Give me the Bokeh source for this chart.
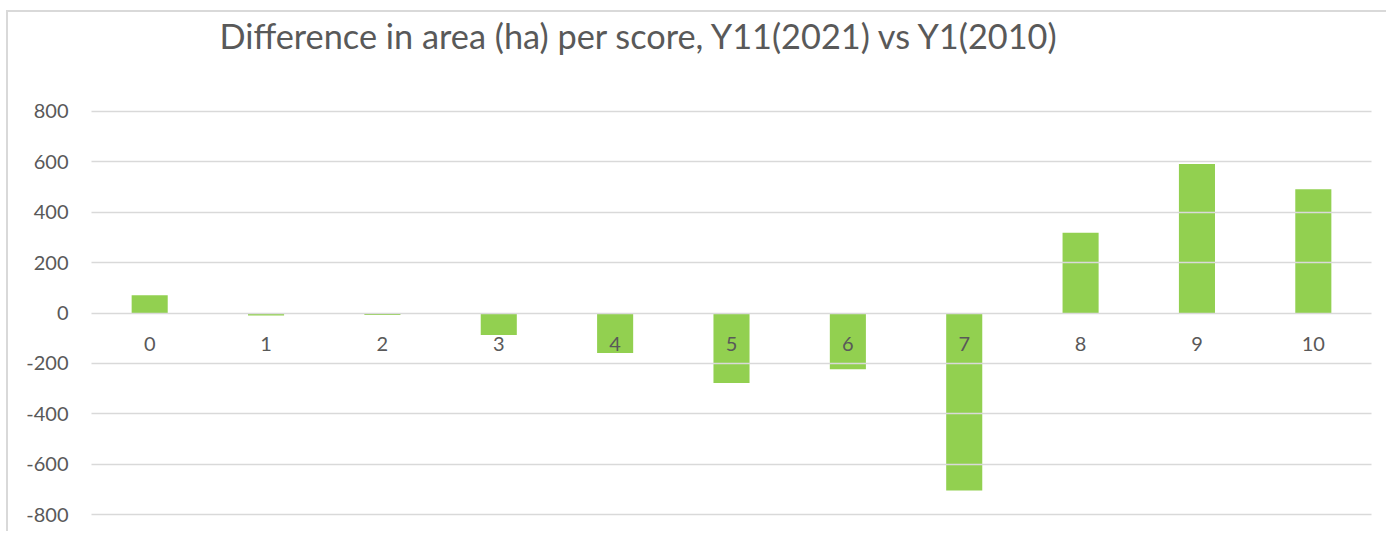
from bokeh.plotting import figure
from bokeh.models import Range1d, FixedTicker, ColumnDataSource, Title
from bokeh.core.properties import value
from bokeh.embed import file_html
from bokeh.resources import INLINE

categories = ["0", "1", "2", "3", "4", "5", "6", "7", "8", "9", "10"]
differences = [70, -10, -8, -87, -158, -277, -223, -703, 318, 590, 490]
y_ticks = [-800, -600, -400, -200, 0, 200, 400, 600, 800]
y_tick_labels = ["-800", "-600", "-400", "-200", "0", "200", "400", "600", "800"]

TITLE = "Difference in area (ha) per score, Y11(2021) vs Y1(2010)"
TEXT_COLOR = "#595959"
GRID_COLOR = "#d9d9d9"
BAR_COLOR = "#92D050"
FONT = "Lato"

xs = list(range(len(categories)))
src = ColumnDataSource(dict(x=xs, top=differences, label=categories, zero=[0] * len(xs)))

p = figure(
    width=1380, height=521,
    output_backend="svg", toolbar_location=None,
    x_range=Range1d(-0.5, len(categories) - 0.5),
    y_range=Range1d(-802, 802),
    min_border_left=83, min_border_right=17,
    min_border_top=98, min_border_bottom=18,
    title=TITLE,
)
p.styles = {
    "margin-left": "6px", "margin-top": "10px",
    "border-top": "2px solid #d9d9d9", "border-left": "2px solid #d9d9d9",
}

p.title.text_font = FONT
p.title.text_font_size = "34.3px"
p.title.text_font_style = "normal"
p.title.text_color = TEXT_COLOR
p.title.align = "left"
p.title.vertical_align = "top"
p.title.offset = 128
p.title.standoff = 0

# white spacer between the title and the plotting frame (pushes the title up)
spacer = Title(text=" ", text_font_size="1px", standoff=50, text_color="white")
p.add_layout(spacer, "above")

p.outline_line_color = None
p.background_fill_color = "white"
p.border_fill_color = "white"

p.vbar(x="x", top="top", bottom=0, width=0.31, source=src,
       fill_color=BAR_COLOR, line_color=BAR_COLOR, line_width=0)

p.xgrid.visible = False
p.ygrid.grid_line_color = GRID_COLOR
p.ygrid.grid_line_width = 1.5
p.ygrid.ticker = FixedTicker(ticks=y_ticks)
p.ygrid.level = "overlay"

p.xaxis.visible = False

p.yaxis.ticker = FixedTicker(ticks=y_ticks)
p.yaxis.major_label_overrides = dict(zip(y_ticks, y_tick_labels))
p.yaxis.axis_line_color = None
p.yaxis.major_tick_line_color = None
p.yaxis.minor_tick_line_color = None
p.yaxis.major_tick_out = 0
p.yaxis.major_tick_in = 0
p.yaxis.major_label_standoff = 23
p.yaxis.major_label_text_font = FONT
p.yaxis.major_label_text_font_size = "20px"
p.yaxis.major_label_text_color = TEXT_COLOR

p.text(x="x", y="zero", text="label", source=src,
       text_font=value(FONT), text_font_size="20px", text_color=TEXT_COLOR,
       text_align="center", text_baseline="middle", y_offset=31)

open("out.html", "w").write(file_html(p, INLINE))
